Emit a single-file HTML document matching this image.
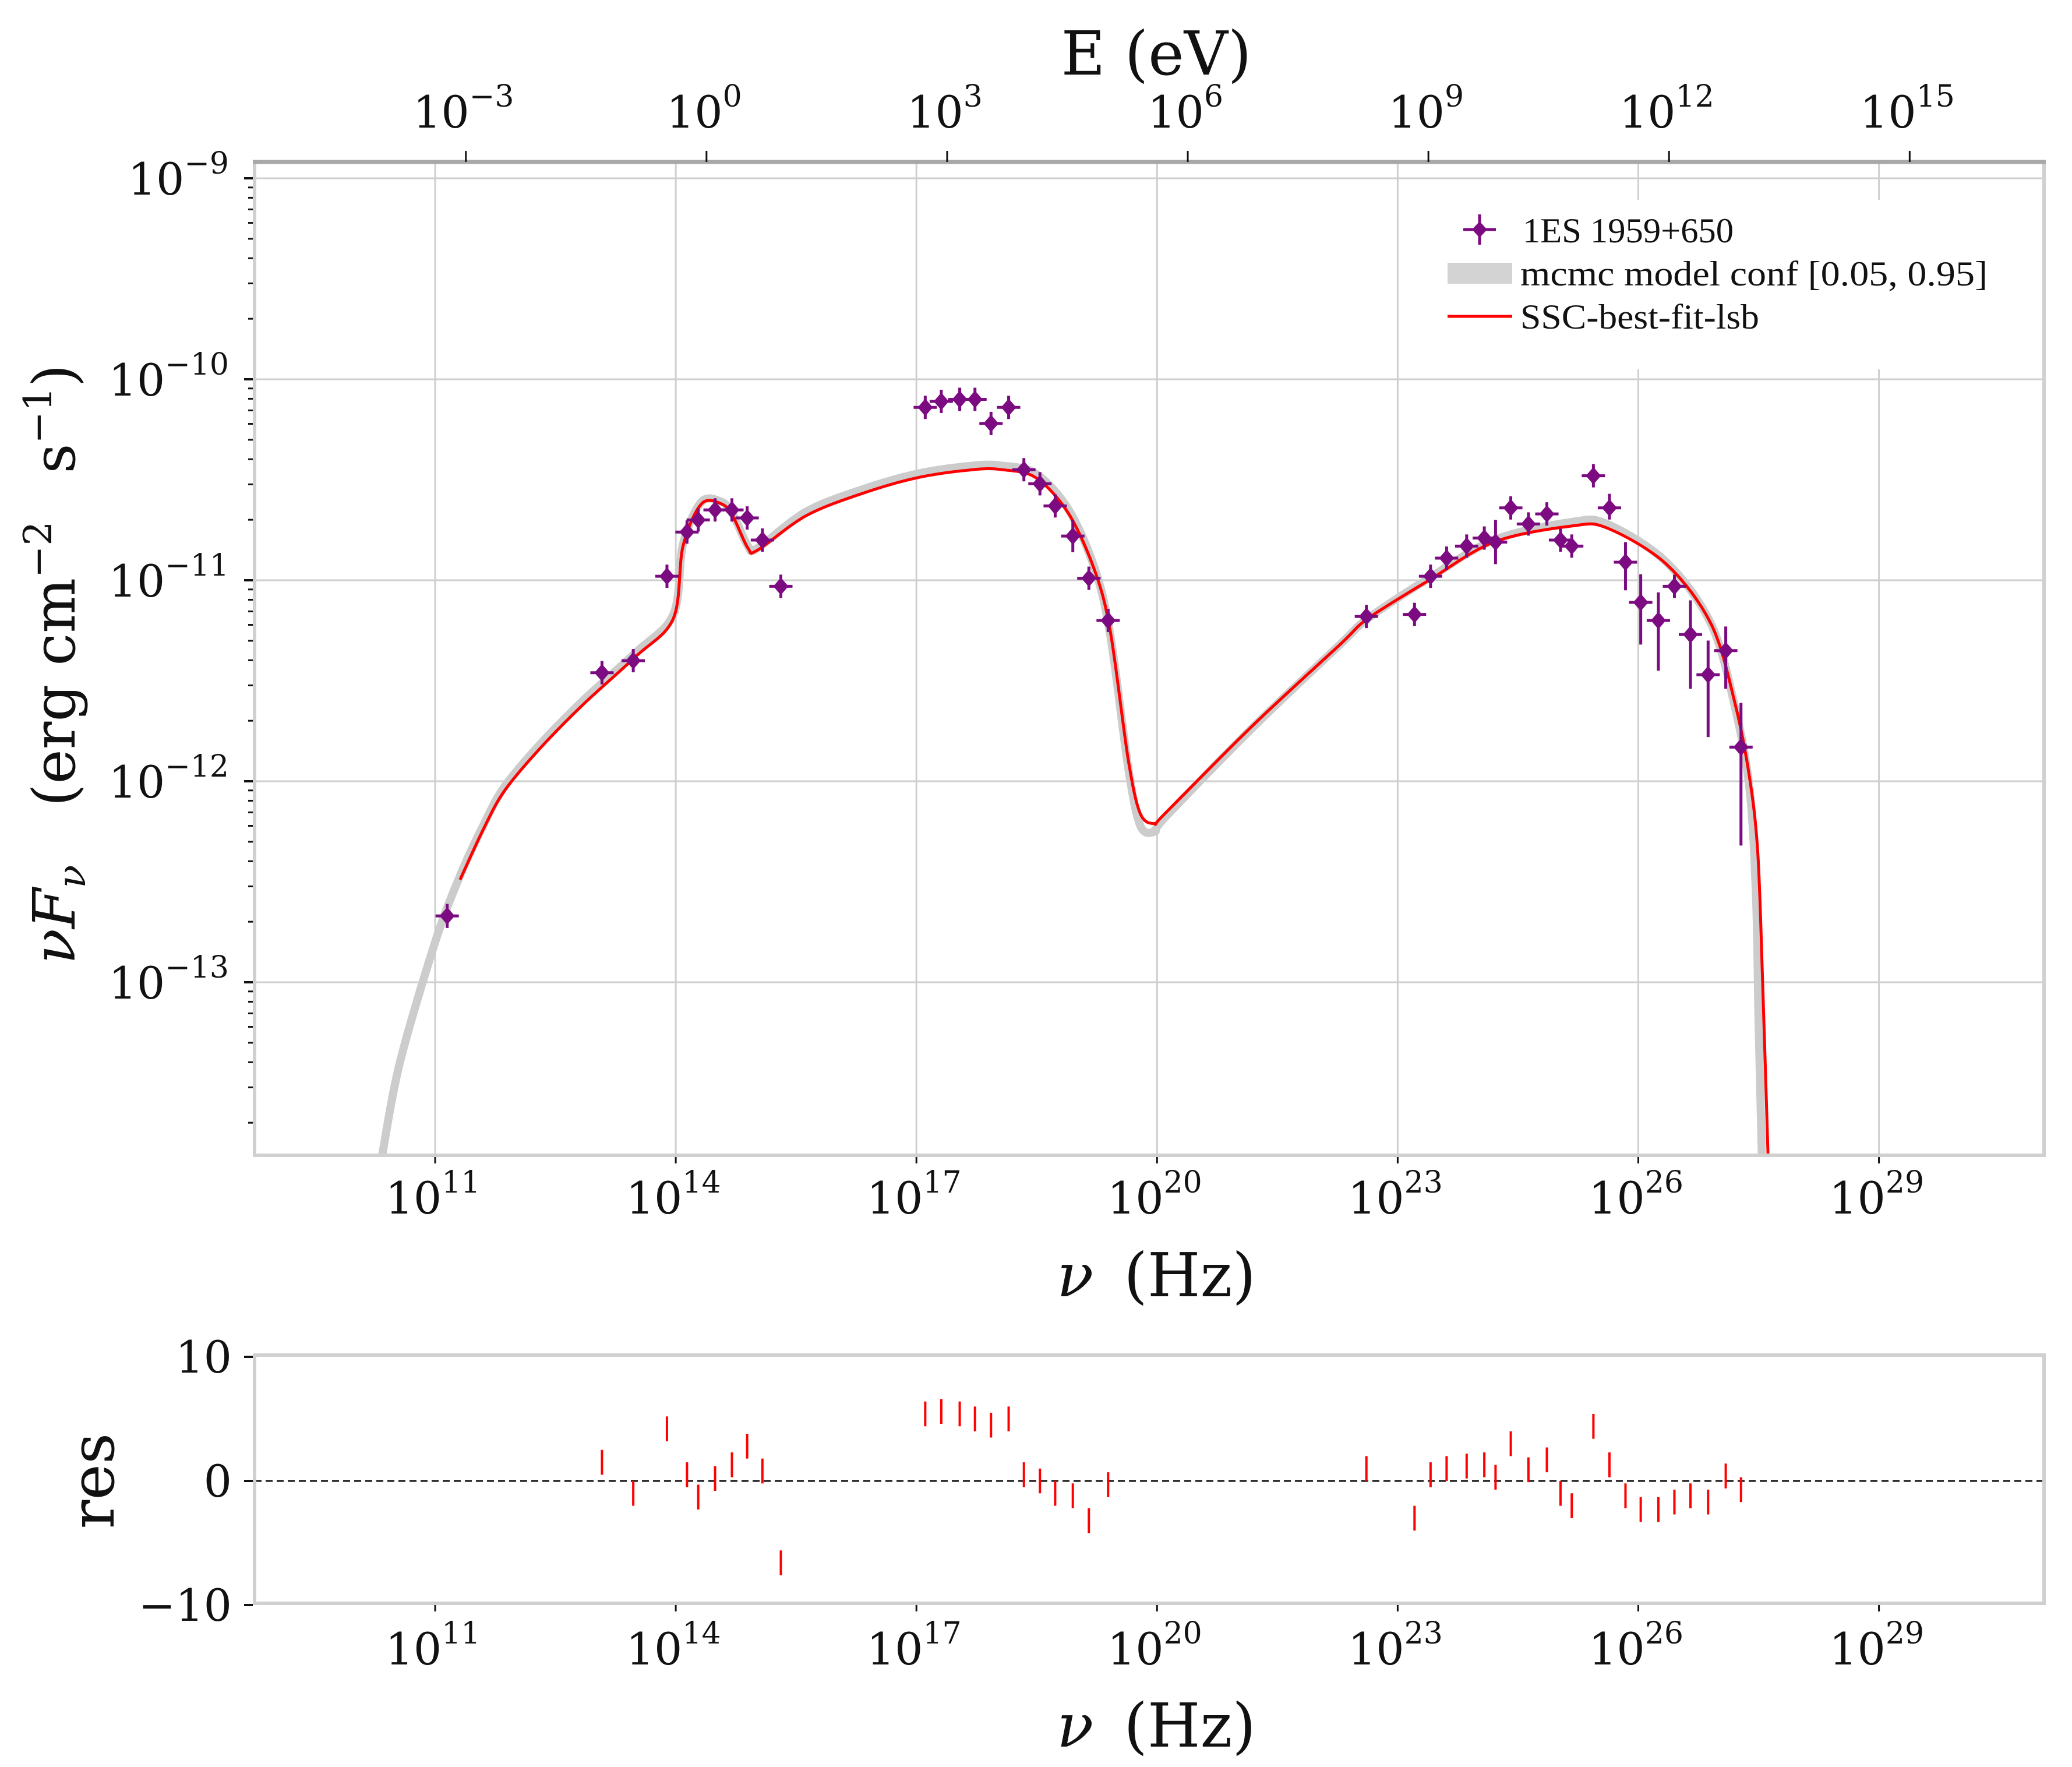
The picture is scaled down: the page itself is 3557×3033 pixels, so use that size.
<!DOCTYPE html>
<html><head><meta charset="utf-8"><style>
html,body{margin:0;padding:0;background:#fff}
svg{display:block}
text{font-family:"DejaVu Serif","Liberation Serif",serif;fill:#111}
</style></head><body>
<svg id="chart" xmlns="http://www.w3.org/2000/svg" width="3557" height="3033" viewBox="0 0 3557 3033">
<rect x="0" y="0" width="3557" height="3033" fill="#fff"/>
<g id="main"></g>
<g id="resid"></g>
</svg>
<script>
// ---- data (log10 values) ----
const dataLogNu = [11.15,13.08,13.47,13.89,14.14,14.28,14.49,14.70,14.89,15.08,15.31,17.11,17.31,17.54,17.73,17.93,18.15,18.34,18.54,18.73,18.95,19.15,19.39,
 22.61,23.21,23.41,23.61,23.86,24.08,24.22,24.41,24.63,24.86,25.03,25.17,25.44,25.64,25.84,26.03,26.25,26.45,26.65,26.87,27.09,27.28];
const dataLogF = [-12.67,-11.46,-11.40,-10.98,-10.76,-10.70,-10.65,-10.65,-10.69,-10.80,-11.03,-10.14,-10.11,-10.10,-10.10,-10.22,-10.14,-10.45,-10.52,-10.63,-10.78,-10.99,-11.20,
 -11.18,-11.17,-10.98,-10.89,-10.83,-10.79,-10.81,-10.64,-10.72,-10.67,-10.80,-10.83,-10.48,-10.64,-10.91,-11.11,-11.20,-11.03,-11.27,-11.47,-11.35,-11.83];
const errUp = [0.06,0.03,0.03,0.03,0.03,0.03,0.03,0.03,0.03,0.03,0.03,0.03,0.03,0.03,0.03,0.03,0.03,0.03,0.05,0.05,0.08,0.03,0.03,
 0.03,0.03,0.03,0.04,0.03,0.03,0.11,0.03,0.05,0.03,0.04,0.04,0.03,0.07,0.10,0.14,0.14,0.03,0.17,0.17,0.12,0.22];
const errDn = [0.06,0.03,0.03,0.03,0.03,0.03,0.03,0.03,0.03,0.03,0.03,0.03,0.03,0.03,0.03,0.03,0.03,0.03,0.05,0.05,0.08,0.03,0.03,
 0.03,0.03,0.03,0.04,0.03,0.03,0.11,0.03,0.05,0.03,0.04,0.04,0.03,0.03,0.14,0.21,0.25,0.03,0.27,0.31,0.19,0.49];
const residuals = [null,1.5,-1,4.2,0.5,-1.3,0.2,1.3,2.8,0.8,-6.6,5.4,5.6,5.4,5.0,4.5,5.0,0.5,0,-1,-1.2,-3.2,-0.3,
 1,-3,0.5,1,1.2,1.3,0.3,3,0.9,1.7,-1,-2,4.4,1.3,-1.2,-2.3,-2.3,-1.7,-1.2,-1.7,0.4,-0.7];
const modelLogNu = [11.31,11.6,11.86,12.3,12.84,13.5,13.97,14.09,14.32,14.57,14.71,14.90,15.02,15.62,16.31,17.01,17.70,18.07,18.49,18.90,19.23,19.42,19.64,19.79,19.97,20.10,21.2,22.28,22.63,23.39,24.20,25.17,25.61,26.35,26.91,27.21,27.39,27.49,27.55,27.62];
const modelLogF = [-12.49,-12.24,-12.05,-11.84,-11.62,-11.38,-11.19,-10.83,-10.62,-10.62,-10.68,-10.84,-10.85,-10.68,-10.57,-10.49,-10.45,-10.45,-10.49,-10.67,-10.96,-11.26,-11.89,-12.16,-12.21,-12.16,-11.72,-11.32,-11.19,-11.00,-10.81,-10.73,-10.74,-10.92,-11.22,-11.62,-11.99,-12.36,-13.0,-13.9];
const bandLogNu = [10.34,10.56,11.0,11.31,11.6,11.86,12.3,12.84,13.5,13.97,14.09,14.32,14.57,14.71,14.90,15.02,15.62,16.31,17.01,17.70,18.07,18.49,18.90,19.23,19.42,19.64,19.79,19.97,20.10,21.2,22.28,22.63,23.39,24.20,25.17,25.61,26.35,26.91,27.21,27.39,27.47,27.50,27.54];
const bandLogF = [-13.86,-13.40,-12.80,-12.47,-12.22,-12.03,-11.82,-11.60,-11.36,-11.17,-10.82,-10.61,-10.61,-10.67,-10.83,-10.84,-10.66,-10.55,-10.47,-10.43,-10.43,-10.47,-10.65,-10.95,-11.28,-11.93,-12.22,-12.25,-12.18,-11.73,-11.32,-11.19,-10.99,-10.80,-10.71,-10.72,-10.91,-11.22,-11.64,-12.05,-12.6,-13.2,-13.86];
const nuTickExp = [11,14,17,20,23,26,29];
const fTickExp = [-9,-10,-11,-12,-13];
const eTickExp = [-3,0,3,6,9,12,15];
const resTicks = [10,0,-10];

// ---- axes ----
const L=437,R=3509,T=278,B=1983;
const X = v => 747 + (v-11)*137.7;
const Y = v => 306 + (-9 - v)*345;
const RT=2326,RB=2752;
const RY = v => 2542 - v*21.3;
const NS="http://www.w3.org/2000/svg";
function mk(parent,tag,attrs,txt){const e=document.createElementNS(NS,tag);for(const k in attrs)e.setAttribute(k,attrs[k]);if(txt!==undefined)e.textContent=txt;parent.appendChild(e);return e;}
const main=document.getElementById('main'), resid=document.getElementById('resid');

const defs=mk(document.getElementById('chart'),'defs',{});
const cp=mk(defs,'clipPath',{id:'clipMain'});mk(cp,'rect',{x:L,y:T,width:R-L,height:B-T});

nuTickExp.forEach(e=>{const g=mk(main,'line',{x1:X(e),x2:X(e),y1:T,y2:B,stroke:'#cfcfcf','stroke-width':3});

});
fTickExp.forEach(e=>{const g=mk(main,'line',{x1:L,x2:R,y1:Y(e),y2:Y(e),stroke:'#cfcfcf','stroke-width':3});

});

// smooth path (Catmull-Rom)
function smoothD(xs,ys,fx,fy){
  const p=xs.map((v,i)=>[fx(v),fy(ys[i])]);
  let d='M'+p[0][0].toFixed(1)+','+p[0][1].toFixed(1);
  const t=0.16;
  for(let i=0;i<p.length-1;i++){
    const p0=p[Math.max(0,i-1)],p1=p[i],p2=p[i+1],p3=p[Math.min(p.length-1,i+2)];
    const c1=[p1[0]+(p2[0]-p0[0])*t,p1[1]+(p2[1]-p0[1])*t];
    const c2=[p2[0]-(p3[0]-p1[0])*t,p2[1]-(p3[1]-p1[1])*t];
    d+=' C'+c1[0].toFixed(1)+','+c1[1].toFixed(1)+' '+c2[0].toFixed(1)+','+c2[1].toFixed(1)+' '+p2[0].toFixed(1)+','+p2[1].toFixed(1);
  }
  return d;
}
const band=mk(main,'path',{d:smoothD(bandLogNu,bandLogF,X,Y),fill:'none',stroke:'#cccccc','stroke-width':14,'stroke-linejoin':'round','clip-path':'url(#clipMain)'});


const model=mk(main,'path',{d:smoothD(modelLogNu,modelLogF,X,Y),fill:'none',stroke:'#ff0000','stroke-width':5,'stroke-linejoin':'round','clip-path':'url(#clipMain)'});



const C='#7c0a80';
dataLogNu.forEach((v,i)=>{
  const g=mk(main,'g',{});
  
  
  const cx=X(v),cy=Y(dataLogF[i]);
  const yu=Math.min(Y(dataLogF[i]+errUp[i]),cy-20), yd=Math.max(Y(dataLogF[i]-errDn[i]),cy+20);
  mk(g,'line',{x1:cx,x2:cx,y1:yu,y2:yd,stroke:C,'stroke-width':5});
  mk(g,'line',{x1:cx-20,x2:cx+20,y1:cy,y2:cy,stroke:C,'stroke-width':5});
  mk(g,'path',{d:`M${cx},${cy-15} L${cx+13},${cy} L${cx},${cy+15} L${cx-13},${cy} Z`,fill:C});
});

mk(main,'line',{x1:L,x2:L,y1:T,y2:B,stroke:'#d0d0d0','stroke-width':6});
mk(main,'line',{x1:R,x2:R,y1:T,y2:B,stroke:'#d0d0d0','stroke-width':6});
mk(main,'line',{x1:L-3,x2:R+3,y1:B,y2:B,stroke:'#d0d0d0','stroke-width':6});
mk(main,'line',{x1:L-3,x2:R+3,y1:T,y2:T,stroke:'#a8a8a8','stroke-width':7});

for(let d=-14;d<=-9;d++){
  for(let k=1;k<=9;k++){const lv=d+Math.log10(k); if(lv>-8.92||lv<-13.86)continue;
    mk(main,'line',{x1:k===1?419:426,x2:L-3,y1:Y(lv),y2:Y(lv),stroke:'#111','stroke-width':k===1?4:3});}
}
fTickExp.forEach(e=>{const t=mk(main,'text',{x:393,y:Y(e)+28,'text-anchor':'end','font-size':76});


mk(t,'tspan',{},'10');mk(t,'tspan',{dy:-36,'font-size':52},'\u2212'+(-e));});

nuTickExp.forEach(e=>{mk(main,'line',{x1:X(e),x2:X(e),y1:B+3,y2:B+14,stroke:'#111','stroke-width':3});
const t=mk(main,'text',{x:X(e)-4,y:2083,'text-anchor':'middle','font-size':76});


mk(t,'tspan',{},'10');mk(t,'tspan',{dy:-36,'font-size':52},String(e));});

eTickExp.forEach(e=>{const x=X(e+14.383);
mk(main,'line',{x1:x,x2:x,y1:259,y2:T,stroke:'#111','stroke-width':3});
const t=mk(main,'text',{x:x-4,y:219,'text-anchor':'middle','font-size':76});


mk(t,'tspan',{},'10');mk(t,'tspan',{dy:-36,'font-size':52},(e<0?'\u2212':'')+Math.abs(e));});

const el=mk(main,'text',{x:1985,y:128,'text-anchor':'middle','font-size':104},'E (eV)');

const xl=mk(main,'text',{x:1985,y:2225,'text-anchor':'middle','font-size':104});

mk(xl,'tspan',{'font-style':'italic'},'\u03bd');mk(xl,'tspan',{},'\u2002(Hz)');
const yl=mk(main,'text',{x:0,y:0,'text-anchor':'middle','font-size':100,transform:'translate(128,1140) rotate(-90)'});

mk(yl,'tspan',{'font-style':'italic'},'\u03bdF');mk(yl,'tspan',{'font-style':'italic','font-size':66,dy:18},'\u03bd');
mk(yl,'tspan',{dy:-18},'\u2003(erg cm');mk(yl,'tspan',{'font-size':66,dy:-40},'\u22122');
mk(yl,'tspan',{dy:40},'\u2002 s');mk(yl,'tspan',{'font-size':66,dy:-40},'\u22121');mk(yl,'tspan',{dy:40},')');

const lg=mk(main,'g',{});


mk(lg,'rect',{x:2470,y:343,width:990,height:291,fill:'#fff'});
const e1=mk(lg,'g',{});
mk(e1,'line',{x1:2540,x2:2540,y1:368,y2:420,stroke:C,'stroke-width':5});
mk(e1,'line',{x1:2512,x2:2568,y1:394,y2:394,stroke:C,'stroke-width':5});
mk(e1,'path',{d:'M2540,380 L2553,394 L2540,408 L2527,394 Z',fill:C});
mk(e1,'text',{x:2614,y:416,'font-size':60,textLength:362,lengthAdjust:'spacingAndGlyphs',style:'font-family:"Liberation Serif",serif'},'1ES 1959+650');
const e2=mk(lg,'g',{});
mk(e2,'rect',{x:2485,y:451,width:111,height:36,fill:'#d3d3d3'});
mk(e2,'text',{x:2610,y:490,'font-size':60,textLength:802,lengthAdjust:'spacingAndGlyphs',style:'font-family:"Liberation Serif",serif'},'mcmc model conf [0.05, 0.95]');
const e3=mk(lg,'g',{});
mk(e3,'line',{x1:2485,x2:2596,y1:543,y2:543,stroke:'#ff0000','stroke-width':5});
mk(e3,'text',{x:2610,y:564,'font-size':60,textLength:410,lengthAdjust:'spacingAndGlyphs',style:'font-family:"Liberation Serif",serif'},'SSC-best-fit-lsb');

mk(resid,'line',{x1:L,x2:R,y1:RY(0),y2:RY(0),stroke:'#111','stroke-width':3,'stroke-dasharray':'12,7'});
dataLogNu.forEach((v,i)=>{ if(residuals[i]===null)return;
  const b=mk(resid,'line',{x1:X(v),x2:X(v),y1:RY(residuals[i]+1),y2:RY(residuals[i]-1),stroke:'#ff0000','stroke-width':4});
  
  
});
mk(resid,'rect',{x:L,y:RT,width:R-L,height:RB-RT,fill:'none',stroke:'#d0d0d0','stroke-width':6});
resTicks.forEach(v=>{mk(resid,'line',{x1:419,x2:L-3,y1:RY(v),y2:RY(v),stroke:'#111','stroke-width':4});
const t=mk(resid,'text',{x:398,y:RY(v)+27,'text-anchor':'end','font-size':76},(v<0?'\u2212':'')+Math.abs(v));

});
nuTickExp.forEach(e=>{mk(resid,'line',{x1:X(e),x2:X(e),y1:RB+3,y2:RB+14,stroke:'#111','stroke-width':3});
const t=mk(resid,'text',{x:X(e)-4,y:2857,'text-anchor':'middle','font-size':76});


mk(t,'tspan',{},'10');mk(t,'tspan',{dy:-36,'font-size':52},String(e));});
const rl=mk(resid,'text',{x:0,y:0,'text-anchor':'middle','font-size':104,transform:'translate(195,2542) rotate(-90)'},'res');

const rx=mk(resid,'text',{x:1985,y:2998,'text-anchor':'middle','font-size':104});

mk(rx,'tspan',{'font-style':'italic'},'\u03bd');mk(rx,'tspan',{},'\u2002(Hz)');
</script>
</body></html>
